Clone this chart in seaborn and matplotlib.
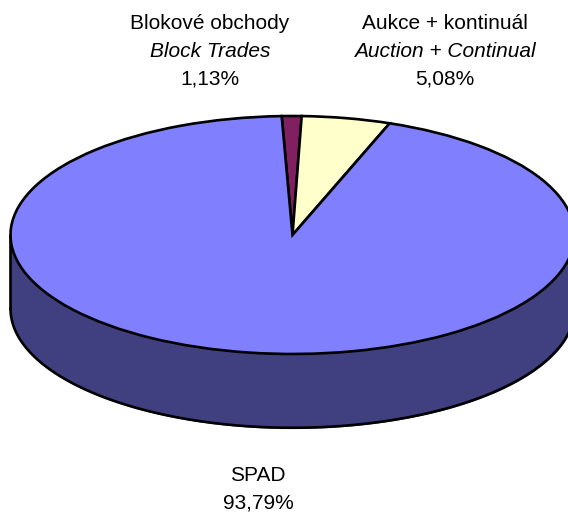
import numpy as np
import matplotlib
matplotlib.use("Agg")
import matplotlib.pyplot as plt
import seaborn as sns

# Data
labels_cz = ["Blokové obchody", "Aukce + kontinuál", "SPAD"]
labels_en = ["Block Trades", "Auction + Continual", ""]
shares = [1.13, 5.08, 93.79]
pct_text = ["1,13%", "5,08%", "93,79%"]
top_colors = ["#802060", "#FFFFCC", "#8080FF"]
side_color = "#404080"

sns.set_style("white")
plt.rcParams["font.family"] = ["Liberation Sans", "DejaVu Sans"]
plt.rcParams["text.color"] = "black"

fig = plt.figure(figsize=(5.68, 5.15), dpi=100)
ax = fig.add_axes([0, 0, 1, 1])

lw = 1.9

# pie top face (ellipse comes from non-equal aspect)
ax.pie(shares, colors=top_colors, startangle=92.2, counterclock=False,
       radius=1, wedgeprops=dict(edgecolor="black", linewidth=lw),
       frame=False)
ax.set_aspect("auto")

# front side of the cylinder
depth = 0.62
t = np.linspace(np.pi, 2 * np.pi, 300)
xs = np.cos(t)
ys = np.sin(t)
ax.fill_between(xs, ys - depth, ys, color=side_color, zorder=0)
ax.plot(xs, ys - depth, color="black", lw=lw, zorder=1)
ax.plot([-1, -1], [0, -depth], color="black", lw=lw, zorder=1)
ax.plot([1, 1], [0, -depth], color="black", lw=lw, zorder=1)

ax.set_xlim(-292.5 / 282, (568 - 292.5) / 282)
ax.set_ylim(-(515 - 235) / 119, 235 / 119)
ax.axis("off")

fs = 15
# labels
ax.text(-0.293, 1.78, labels_cz[0], ha="center", va="center", fontsize=fs)
ax.text(-0.293, 1.545, labels_en[0], ha="center", va="center", fontsize=fs, style="italic")
ax.text(-0.293, 1.31, pct_text[0], ha="center", va="center", fontsize=fs)

ax.text(0.541, 1.78, labels_cz[1], ha="center", va="center", fontsize=fs)
ax.text(0.541, 1.545, labels_en[1], ha="center", va="center", fontsize=fs, style="italic")
ax.text(0.541, 1.31, pct_text[1], ha="center", va="center", fontsize=fs)

ax.text(-0.122, -2.017, labels_cz[2], ha="center", va="center", fontsize=fs)
ax.text(-0.122, -2.252, pct_text[2], ha="center", va="center", fontsize=fs)

fig.savefig("out.png", dpi=100)
